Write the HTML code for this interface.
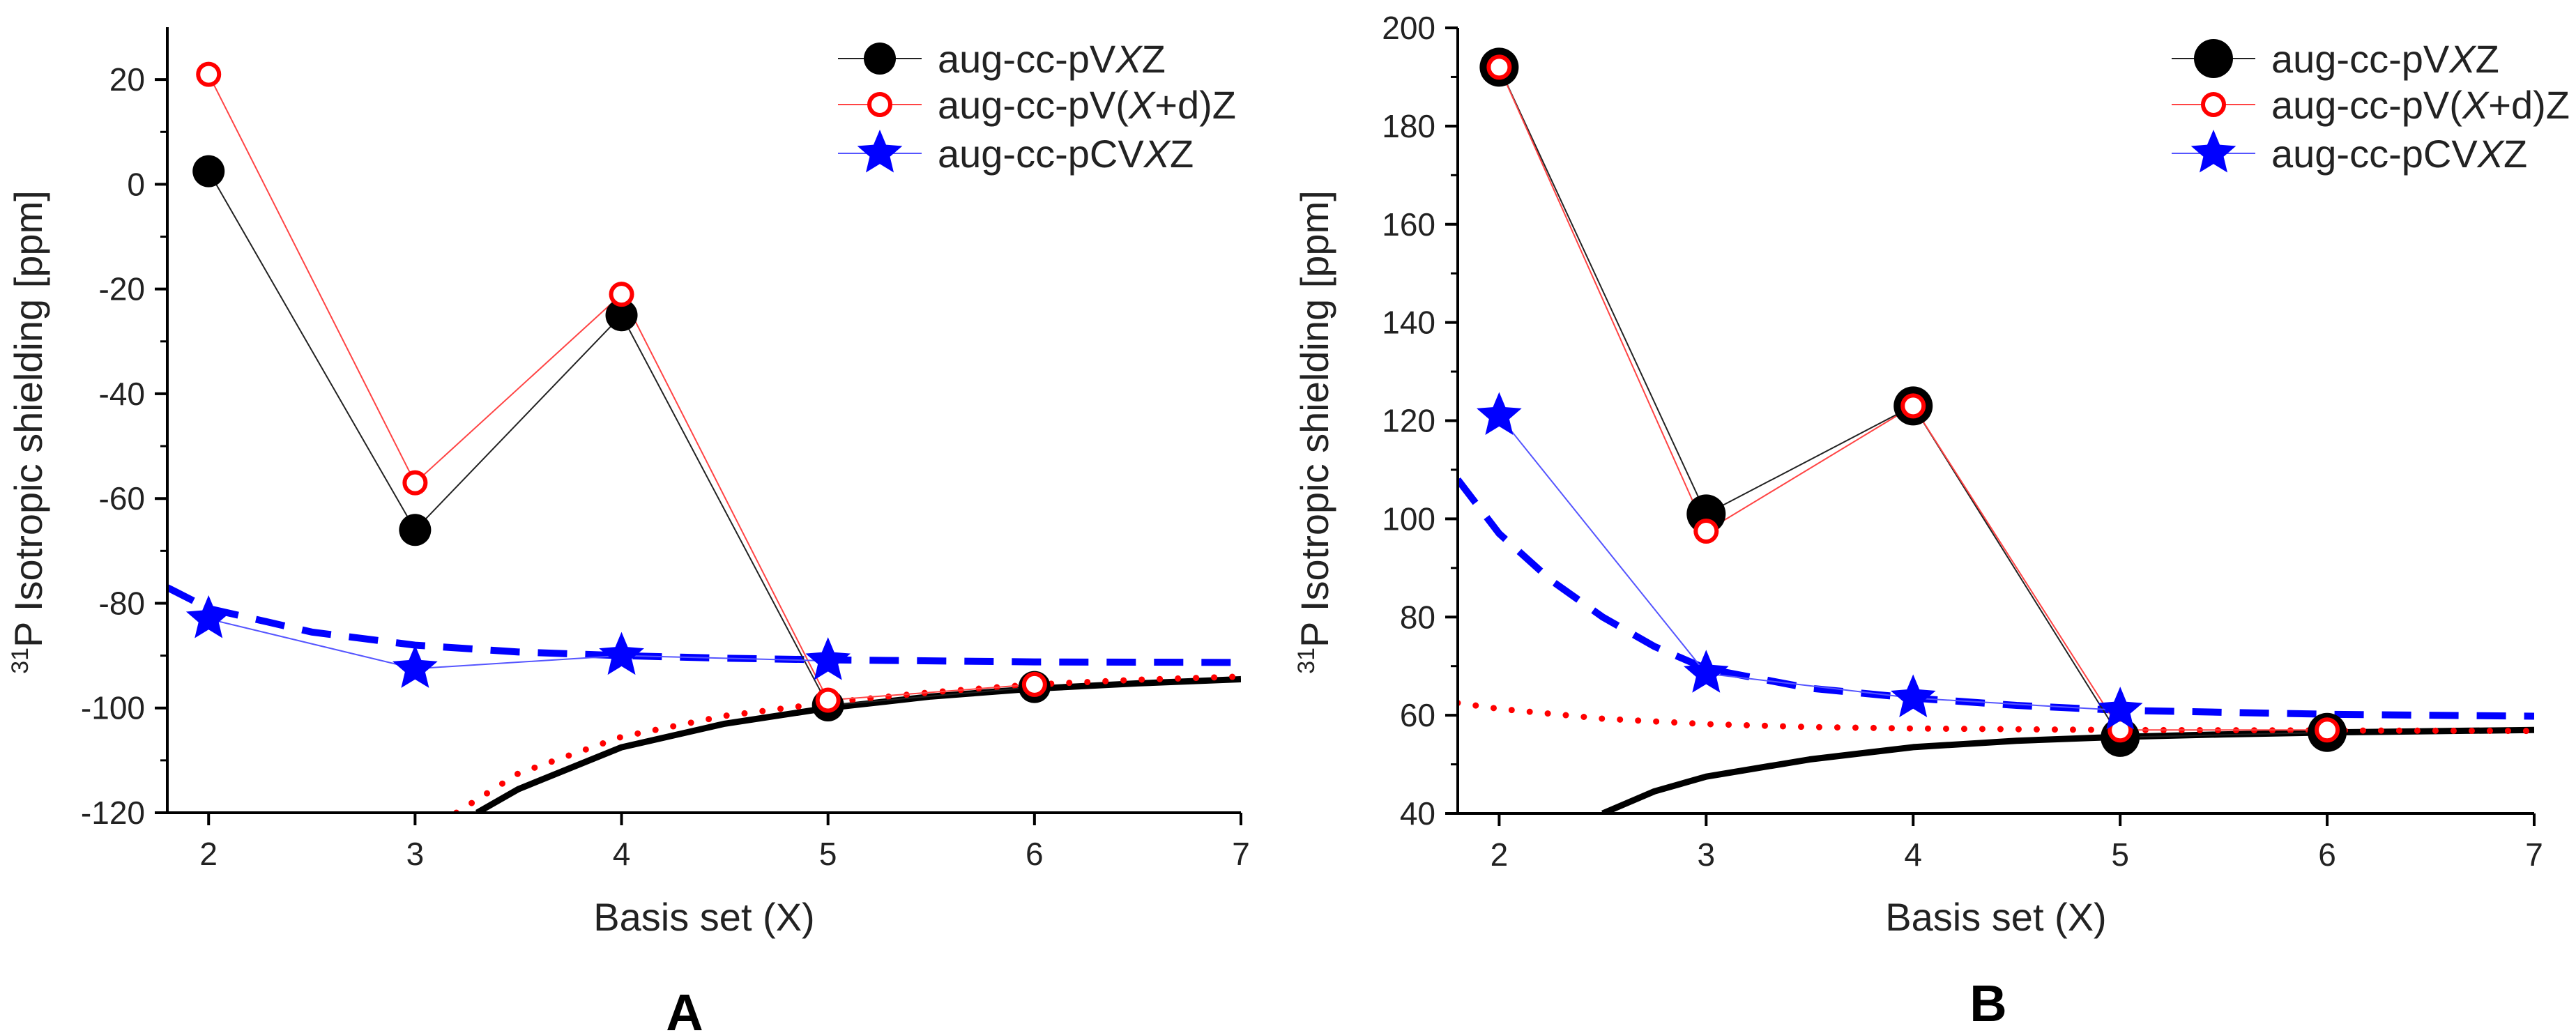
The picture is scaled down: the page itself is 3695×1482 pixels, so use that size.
<!DOCTYPE html>
<html><head><meta charset="utf-8"><style>
html,body{margin:0;padding:0;background:#fff;}
svg{display:block;font-family:"Liberation Sans",Arial,sans-serif;}
</style></head><body>
<svg id="chart" width="3695" height="1482" viewBox="0 0 3695 1482" xmlns="http://www.w3.org/2000/svg"></svg>
<script>
// ---------- Panel A data ----------
const basisX = [2, 3, 4, 5, 6];
const starX = [2, 3, 4, 5];
const aBlack = [2.5, -66, -25, -99.5, -96];
const aRed = [21, -57, -21, -98.5, -95.5];
const aBlue = [-83, -92.5, -90, -91];
const aFitBlackX = [3.3, 3.5, 4, 4.5, 5, 5.5, 6, 6.5, 7];
const aFitBlackY = [-120, -115.5, -107.5, -103, -100, -97.8, -96.3, -95.3, -94.5];
const aFitRedX = [3.2, 3.5, 4, 4.5, 5, 5.5, 6, 6.5, 7];
const aFitRedY = [-120, -112.5, -105.5, -101.5, -99, -97, -95.5, -94.6, -94];
const aFitBlueX = [1.8, 2, 2.5, 3, 3.5, 4, 4.5, 5, 6, 7];
const aFitBlueY = [-77, -81, -85.5, -88, -89.3, -90, -90.5, -90.8, -91.2, -91.3];
const aYTicks = [20, 0, -20, -40, -60, -80, -100, -120];
// ---------- Panel B data ----------
const bBlack = [192, 101, 123, 55.5, 56.5];
const bRed = [192, 97.5, 123, 57, 57];
const bBlue = [121, 68.5, 63.5, 61];
const bFitBlackX = [2.5, 2.75, 3, 3.5, 4, 4.5, 5, 5.5, 6, 7];
const bFitBlackY = [40, 44.5, 47.5, 51, 53.5, 54.8, 55.6, 56.1, 56.5, 57];
const bFitRedX = [1.8, 2, 2.5, 3, 3.5, 4, 5, 6, 7];
const bFitRedY = [62.5, 61.3, 59.3, 58.2, 57.6, 57.3, 57, 56.9, 56.8];
const bFitBlueX = [1.8, 2, 2.25, 2.5, 2.75, 3, 3.5, 4, 4.5, 5, 6, 7];
const bFitBlueY = [108, 97, 87.5, 80, 74, 69.5, 65.5, 63.5, 62, 61, 60.2, 59.8];
const bYTicks = [200, 180, 160, 140, 120, 100, 80, 60, 40];
const xTicks = [2, 3, 4, 5, 6, 7];
const legendLabels = [["aug-cc-pV", "X", "Z", ""], ["aug-cc-pV(", "X", "+d)Z", ""], ["aug-cc-pCV", "X", "Z", ""]];

const NS = "http://www.w3.org/2000/svg";
const svg = document.getElementById("chart");
function mk(tag, attrs, parent) {
  const e = document.createElementNS(NS, tag);
  for (const k in attrs) e.setAttribute(k, attrs[k]);
  (parent || svg).appendChild(e);
  return e;
}
function starPts(cx, cy, R) {
  const r = R * 0.45; let p = [];
  for (let i = 0; i < 10; i++) {
    const a = -Math.PI / 2 + i * Math.PI / 5, rr = i % 2 ? r : R;
    p.push((cx + rr * Math.cos(a)).toFixed(1) + "," + (cy + rr * Math.sin(a)).toFixed(1));
  }
  return p.join(" ");
}

function panel(cfg) {
  const g = mk("g", {});
  
  
  const sx = v => cfg.x0 + (v - 1.8) * (cfg.x1 - cfg.x0) / (7 - 1.8);
  const sy = v => cfg.y1 - (v - cfg.ymin) * (cfg.y1 - cfg.y0) / (cfg.ymax - cfg.ymin);
  const clip = mk("clipPath", { id: cfg.name + "-clip" }, g);
  mk("rect", { x: cfg.x0, y: cfg.y0, width: cfg.x1 - cfg.x0, height: cfg.y1 - cfg.y0 }, clip);
  const plot = mk("g", { "clip-path": "url(#" + cfg.name + "-clip)" }, g);
  
  
  function curve(xs, ys, attrs, nm) {
    const p = mk("polyline", Object.assign({ points: xs.map((x, i) => sx(x) + "," + sy(ys[i])).join(" "), fill: "none" }, attrs), plot);
    
    
  }
  curve(cfg.fbX, cfg.fbY, { stroke: "#000", "stroke-width": 9, "stroke-linejoin": "round" }, "fit-curve-pvxz");
  curve(cfg.frX, cfg.frY, { stroke: "#f00", "stroke-width": 9, "stroke-dasharray": "0 26", "stroke-linecap": "round" }, "fit-curve-pvxdz");
  curve(cfg.fuX, cfg.fuY, { stroke: "#00f", "stroke-width": 10, "stroke-dasharray": "42 26" }, "fit-curve-pcvxz");
  curve(basisX, cfg.black, { stroke: "#222", "stroke-width": 2 }, "line-pvxz");
  curve(basisX, cfg.red, { stroke: "#f44", "stroke-width": 2 }, "line-pvxdz");
  curve(starX, cfg.blue, { stroke: "#55f", "stroke-width": 2 }, "line-pcvxz");
  basisX.forEach((x, i) => {
    const c = mk("circle", { cx: sx(x), cy: sy(cfg.black[i]), r: cfg.br, fill: "#000" }, plot);
    
    
  });
  basisX.forEach((x, i) => {
    const c = mk("circle", { cx: sx(x), cy: sy(cfg.red[i]), r: 15, fill: "#fff", stroke: "#f00", "stroke-width": 6 }, plot);
    
    
  });
  starX.forEach((x, i) => {
    const s = mk("polygon", { points: starPts(sx(x), sy(cfg.blue[i]), 34), fill: "#00f" }, plot);
    
    
  });
  // axes
  const ax = mk("path", { d: `M${cfg.x0},${cfg.y0}V${cfg.y1}H${cfg.x1}`, fill: "none", stroke: "#000", "stroke-width": 4 }, g);
  
  
  xTicks.forEach(t => {
    mk("line", { x1: sx(t), x2: sx(t), y1: cfg.y1, y2: cfg.y1 + 18, stroke: "#000", "stroke-width": 4 }, g);
    const tx = mk("text", { x: sx(t), y: cfg.y1 + 75, "font-size": 46, "text-anchor": "middle", fill: "#222" }, g);
    tx.textContent = t;
    
    
  });
  const step = cfg.yt[0] - cfg.yt[1];
  cfg.yt.forEach(t => {
    mk("line", { x1: cfg.x0 - 18, x2: cfg.x0, y1: sy(t), y2: sy(t), stroke: "#000", "stroke-width": 4 }, g);
    const m = t - step / 2;
    if (m > cfg.ymin) mk("line", { x1: cfg.x0 - 10, x2: cfg.x0, y1: sy(m), y2: sy(m), stroke: "#000", "stroke-width": 3 }, g);
    const tx = mk("text", { x: cfg.x0 - 32, y: sy(t) + 16, "font-size": 46, "text-anchor": "end", fill: "#222" }, g);
    tx.textContent = t;
    
    
  });
  const m2 = cfg.yt[0] + step / 2;
  if (m2 < cfg.ymax) mk("line", { x1: cfg.x0 - 10, x2: cfg.x0, y1: sy(m2), y2: sy(m2), stroke: "#000", "stroke-width": 3 }, g);
  const xt = mk("text", { x: (cfg.x0 + cfg.x1) / 2, y: 1335, "font-size": 56, "text-anchor": "middle", fill: "#222" }, g);
  xt.textContent = "Basis set (X)";
  
  
  const yt = mk("text", { transform: `translate(${cfg.ytx},620) rotate(-90)`, "font-size": 56, "text-anchor": "middle", fill: "#222" }, g);
  yt.innerHTML = '<tspan font-size="34" dy="-20">31</tspan><tspan dy="20">P Isotropic shielding [ppm]</tspan>';
  
  
  // legend
  const rows = [84, 150, 220];
  rows.forEach((ry, i) => {
    const le = mk("g", {}, g);
    
    
    const col = ["#222", "#f44", "#55f"][i];
    mk("line", { x1: cfg.lx, x2: cfg.lx + 120, y1: ry, y2: ry, stroke: col, "stroke-width": 2 }, le);
    const mx = cfg.lx + 60;
    if (i === 0) mk("circle", { cx: mx, cy: ry, r: cfg.br, fill: "#000" }, le);
    if (i === 1) mk("circle", { cx: mx, cy: ry, r: 15, fill: "#fff", stroke: "#f00", "stroke-width": 6 }, le);
    if (i === 2) mk("polygon", { points: starPts(mx, ry, 34), fill: "#00f" }, le);
    const t = mk("text", { x: cfg.lx + 143, y: ry + 20, "font-size": 56, fill: "#222" }, le);
    const L = legendLabels[i];
    t.innerHTML = L[0] + '<tspan font-style="italic">' + L[1] + '</tspan>' + L[2];
  });
  const lab = mk("text", { x: cfg.labx, y: cfg.laby, "font-size": 74, "font-weight": "bold", "text-anchor": "middle", fill: "#000" }, g);
  lab.textContent = cfg.label;
  
  
}

panel({ name: "panel-a", x0: 240, x1: 1780, y0: 39, y1: 1166, ymin: -120, ymax: 30, yt: aYTicks,
  black: aBlack, red: aRed, blue: aBlue, br: 23,
  fbX: aFitBlackX, fbY: aFitBlackY, frX: aFitRedX, frY: aFitRedY, fuX: aFitBlueX, fuY: aFitBlueY,
  ytx: 60, lx: 1202, label: "A", labx: 982, laby: 1478 });
panel({ name: "panel-b", x0: 2091, x1: 3635, y0: 40, y1: 1167, ymin: 40, ymax: 200, yt: bYTicks,
  black: bBlack, red: bRed, blue: bBlue, br: 28,
  fbX: bFitBlackX, fbY: bFitBlackY, frX: bFitRedX, frY: bFitRedY, fuX: bFitBlueX, fuY: bFitBlueY,
  ytx: 1905, lx: 3115, label: "B", labx: 2852, laby: 1465 });
</script>
</body></html>
